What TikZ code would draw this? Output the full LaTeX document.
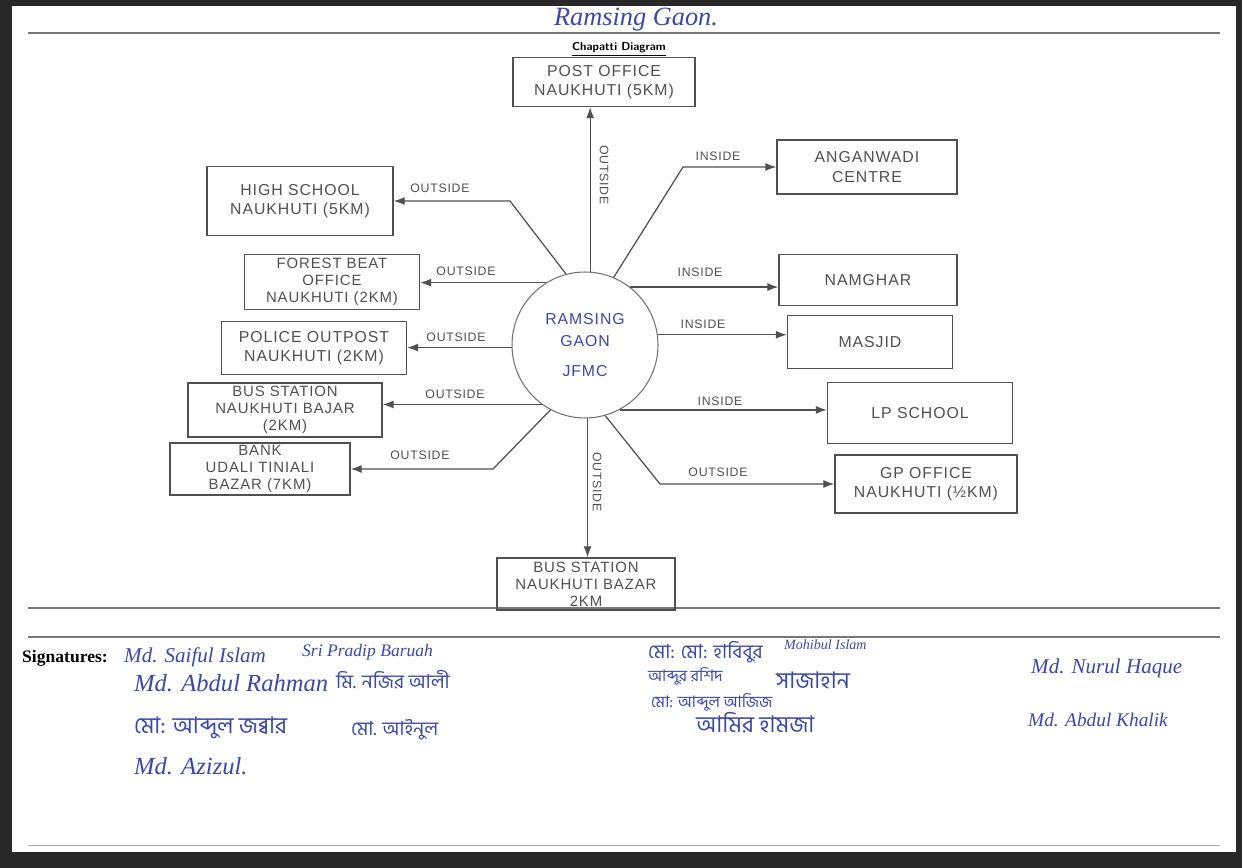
\documentclass[tikz,border=0pt]{standalone}
\usepackage{fontspec}
\setmainfont{Liberation Serif}
\newfontfamily\handfont[LetterSpace=6]{Liberation Sans}
\newfontfamily\bengfont[Script=Bengali]{Hind Siliguri}
\usetikzlibrary{positioning, arrows.meta, calc}
\definecolor{pencil}{RGB}{80,80,80}
\definecolor{inkblue}{RGB}{60,72,165}
\definecolor{scanedge}{RGB}{40,40,40}
\definecolor{ruleline}{RGB}{120,120,120}

\begin{document}
\begin{tikzpicture}[x=0.02cm, y=-0.02cm,
  placebox/.style={draw=pencil, line width=0.8pt, align=center, font=\handfont\small,
                   text=pencil, inner sep=2pt},
  tightbox/.style={placebox, font=\handfont\fontsize{8.5}{9.6}\selectfont, inner sep=1pt},
  hubnode/.style={circle, draw=pencil!80, line width=0.6pt, minimum size=2.92cm,
                  align=center, font=\handfont\small, text=inkblue},
  link/.style={-{Latex[length=2.2mm, width=1.6mm]}, pencil, line width=0.7pt},
  linklabel/.style={font=\handfont\scriptsize, text=pencil},
  signlatin/.style={font=\itshape\fontsize{12}{14}\selectfont, text=inkblue, anchor=west},
  signbeng/.style={font=\bengfont\fontsize{11}{13}\selectfont, text=inkblue, anchor=west}
]
  % scanned page
  \fill[scanedge] (0,0) rectangle (1242,868);
  \fill[white] (12,6) rectangle (1236,852);
  \draw[ruleline, line width=0.8pt] (28,33) -- (1220,33);
  \draw[ruleline, line width=0.8pt] (28,608) -- (1220,608);
  \draw[ruleline, line width=0.6pt] (28,637) -- (1220,637);
  \draw[ruleline!60, line width=0.5pt] (28,845) -- (1220,845);

  % heading
  \node[font=\itshape\fontsize{15}{17}\selectfont, text=inkblue] (title) at (636,20) {Ramsing Gaon.};
  \node[font=\bfseries\fontsize{6.5}{8}\selectfont\sffamily, inner sep=1pt] (chap) at (619,49) {\underline{Chapatti Diagram}};

  % centre
  \node[hubnode] (hub) at (585,345) {RAMSING\\[2pt]GAON\\[6pt]JFMC};

  % places
  \node[placebox, minimum width=3.64cm, minimum height=0.98cm] (post) at (604,82) {POST OFFICE\\NAUKHUTI (5KM)};
  \node[placebox, minimum width=3.72cm, minimum height=1.38cm] (high) at (300,201) {HIGH SCHOOL\\NAUKHUTI (5KM)};
  \node[tightbox, minimum width=3.5cm, minimum height=1.1cm] (forest) at (332,282) {FOREST BEAT\\OFFICE\\NAUKHUTI (2KM)};
  \node[placebox, minimum width=3.7cm, minimum height=1.06cm] (police) at (314,348) {POLICE OUTPOST\\NAUKHUTI (2KM)};
  \node[tightbox, minimum width=3.88cm, minimum height=1.08cm] (busleft) at (285,410) {BUS STATION\\NAUKHUTI BAJAR\\(2KM)};
  \node[tightbox, minimum width=3.6cm, minimum height=1.04cm] (bank) at (260,469) {BANK\\UDALI TINIALI\\BAZAR (7KM)};
  \node[placebox, minimum width=3.6cm, minimum height=1.08cm] (angan) at (867,167) {ANGANWADI\\CENTRE};
  \node[placebox, minimum width=3.56cm, minimum height=1.02cm] (namghar) at (868,280) {NAMGHAR};
  \node[placebox, minimum width=3.3cm, minimum height=1.06cm] (masjid) at (870,342) {MASJID};
  \node[placebox, minimum width=3.7cm, minimum height=1.22cm] (lpschool) at (920,413) {LP SCHOOL};
  \node[placebox, minimum width=3.64cm, minimum height=1.16cm] (gpoffice) at (926,484) {GP OFFICE\\NAUKHUTI (½KM)};
  \node[tightbox, minimum width=3.56cm, minimum height=1.04cm] (busbottom) at (586,584) {BUS STATION\\NAUKHUTI BAZAR\\2KM};

  % bends
  \coordinate (hbend) at (510,201);
  \coordinate (bbend) at (493,469);
  \coordinate (abend) at (683,167);
  \coordinate (gbend) at (660,484);

  % connectors
  \draw[link] (hub.86) -- (hub.86 |- post.south);
  \draw[link] (hub.272) -- (hub.272 |- busbottom.north);
  \draw[link] (hub.105) -- (hbend) -- (high.east);
  \draw[link] (hub.122) -- (hub.122 -| forest.east);
  \draw[link] (hub.182) -- (hub.182 -| police.east);
  \draw[link] (hub.234) -- (hub.234 -| busleft.east);
  \draw[link] (hub.242) -- (bbend) -- (bank.east);
  \draw[link] (hub.67) -- (abend) -- (angan.west);
  \draw[link] (hub.52) -- (hub.52 -| namghar.west);
  \draw[link] (hub.8) -- (hub.8 -| masjid.west);
  \draw[link] (hub.-62) -- (hub.-62 -| lpschool.west);
  \draw[link] (hub.-74) -- (gbend) -- (gpoffice.west);

  % labels
  \node[linklabel, rotate=-90] (lup) at (604,175) {OUTSIDE};
  \node[linklabel, rotate=-90] (ldown) at (597,482) {OUTSIDE};
  \node[linklabel] (lhigh) at (440,188) {OUTSIDE};
  \node[linklabel] (lforest) at (466,271) {OUTSIDE};
  \node[linklabel] (lpolice) at (456,337) {OUTSIDE};
  \node[linklabel] (lbusleft) at (455,394) {OUTSIDE};
  \node[linklabel] (lbank) at (420,455) {OUTSIDE};
  \node[linklabel] (langan) at (718,156) {INSIDE};
  \node[linklabel] (lnamghar) at (700,272) {INSIDE};
  \node[linklabel] (lmasjid) at (703,324) {INSIDE};
  \node[linklabel] (llps) at (720,401) {INSIDE};
  \node[linklabel] (lgp) at (718,472) {OUTSIDE};

  % signatures
  \node[font=\bfseries\fontsize{10}{12}\selectfont, anchor=west] (signhead) at (16,658) {Signatures:};
  \node[signlatin] (s1) at (118,657) {Md. Saiful Islam};
  \node[signlatin, font=\itshape\fontsize{10}{12}\selectfont] (s2) at (296,652) {Sri Pradip Baruah};
  \node[signlatin, font=\itshape\fontsize{14}{16}\selectfont] (s3) at (128,683) {Md. Abdul Rahman};
  \node[signbeng] (s4) at (330,680) {মি. নজির আলী};
  \node[signbeng, font=\bengfont\fontsize{13}{15}\selectfont] (s5) at (128,728) {মো: আব্দুল জব্বার};
  \node[signbeng] (s6) at (345,730) {মো. আইনুল};
  \node[signlatin, font=\itshape\fontsize{14}{16}\selectfont] (s7) at (128,766) {Md. Azizul.};
  \node[signbeng] (s8) at (642,652) {মো: মো: হাবিবুর};
  \node[signlatin, font=\itshape\fontsize{8}{10}\selectfont] (s9) at (778,645) {Mohibul Islam};
  \node[signbeng, font=\bengfont\fontsize{9}{11}\selectfont] (s10) at (642,676) {আব্দুর রশিদ};
  \node[signbeng, font=\bengfont\fontsize{13}{15}\selectfont] (s11) at (770,680) {সাজাহান};
  \node[signbeng, font=\bengfont\fontsize{9}{11}\selectfont] (s12) at (645,702) {মো: আব্দুল আজিজ};
  \node[signbeng, font=\bengfont\fontsize{13}{15}\selectfont] (s13) at (690,723) {আমির হামজা};
  \node[signlatin] (s14) at (1025,668) {Md. Nurul Haque};
  \node[signlatin, font=\itshape\fontsize{11}{13}\selectfont] (s15) at (1022,720) {Md. Abdul Khalik};
\end{tikzpicture}
\end{document}
